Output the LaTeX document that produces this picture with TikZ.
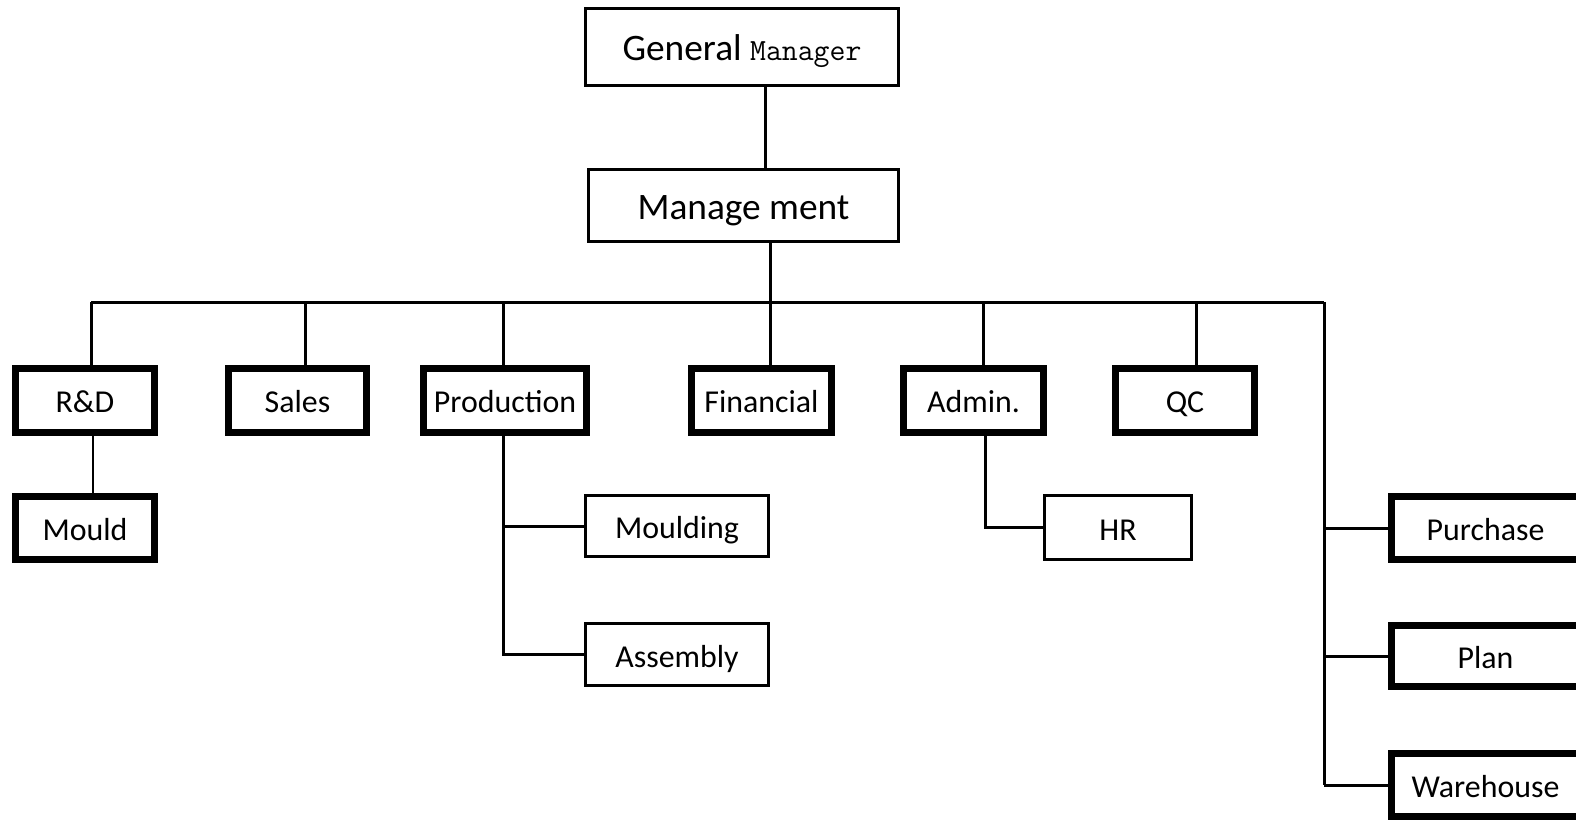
\documentclass[tikz,border=0pt]{standalone}
\usepackage{fontspec}
\setmainfont{Carlito}
\usetikzlibrary{positioning,calc}
\tikzset{
  basic/.style = {draw, rectangle, inner sep=0pt, align=center,
                  text height=28bp, text depth=2.4bp,
                  font=\fontsize{32}{36}\selectfont},
  head/.style  = {basic, line width=3bp, text height=30bp, text depth=3bp,
                  font=\fontsize{37.5}{42}\selectfont},
  dept/.style  = {basic, line width=7bp, minimum height=64bp},
  sub/.style   = {basic, line width=3bp},
  link/.style  = {line width=3bp},
  thinlink/.style = {line width=1.6bp}
}

\begin{document}
\begin{tikzpicture}[x=1bp,y=-1bp]
  \useasboundingbox (0,0) rectangle (1576,825);
  % top level
  \node[head, minimum width=313bp, minimum height=77bp] (gm) at (742,47)
    {General {\ttfamily\fontsize{31}{36}\selectfont Manager}};
  \node[head, minimum width=310bp, minimum height=72bp] (mm) at (743.5,205.5) {Manage ment};
  % departments
  \node[dept, minimum width=139bp] (rd)    at (85,400)     {R\&D};
  \node[dept, minimum width=138bp] (sales) at (297.5,400)  {Sales};
  \node[dept, minimum width=163bp] (prod)  at (505,400)    {Production};
  \node[dept, minimum width=140bp] (fin)   at (761.5,400)  {Financial};
  \node[dept, minimum width=140bp] (adm)   at (973.5,400)  {Admin.};
  \node[dept, minimum width=139bp] (qc)    at (1185,400)   {QC};
  % second row
  \node[dept, minimum width=139bp, minimum height=63bp] (mould) at (85,528) {Mould};
  \node[sub, minimum width=183bp, minimum height=61bp] (mld) at (677,526)   {Moulding};
  \node[sub, minimum width=183bp, minimum height=62bp] (asm) at (677,654.5) {Assembly};
  \node[sub, minimum width=147bp, minimum height=64bp] (hr)  at (1118,527.5) {HR};
  \node[dept, minimum width=188bp, minimum height=63bp] (pur)  at (1485.5,528) {Purchase};
  \node[dept, minimum width=188bp, minimum height=61bp] (plan) at (1485.5,656) {Plan};
  \node[dept, minimum width=188bp, minimum height=63bp] (wh)   at (1485.5,785) {Warehouse};
  % taps
  \coordinate (t0) at (765,0);
  \coordinate (t1) at (770,0);
  \coordinate (bl) at (91,302);
  \coordinate (br) at (1324,302);
  % links
  \draw[link] (gm.south -| t0) -- (mm.north -| t0);
  \draw[link] (mm.south -| t1) -- (fin.north -| t1);
  \draw[link] (bl) -- (br);
  \foreach \n/\x in {rd/91, sales/305, prod/503, adm/983, qc/1196}
    \draw[link] (\x,302) -- (\n.north -| \x,0);
  \draw[thinlink] (rd.south -| 93,0) -- (mould.north -| 93,0);
  \draw[link] (prod.south -| 503,0) |- (asm.west);
  \draw[link] (mld.west) -- (mld.west -| 503,0);
  \draw[link] (adm.south -| 985,0) |- (hr.west);
  \draw[link] (br) -- (br |- wh.west);
  \foreach \n in {pur, plan, wh}
    \draw[link] (br |- \n.west) -- (\n.west);
\end{tikzpicture}
\end{document}
